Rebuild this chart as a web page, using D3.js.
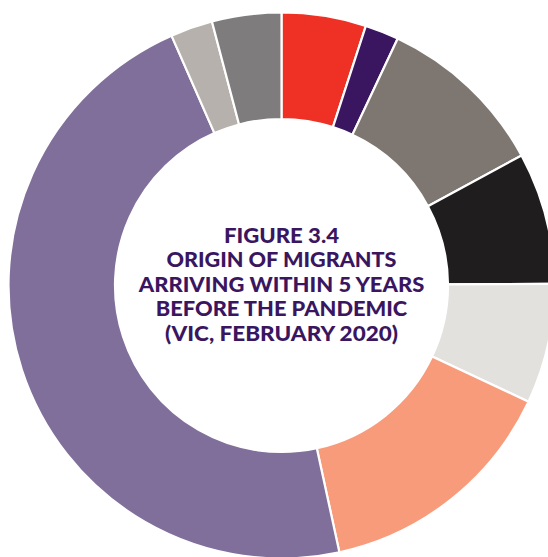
<!DOCTYPE html>
<html>
<head>
<meta charset="utf-8">
<script src="https://cdn.jsdelivr.net/npm/d3@7/dist/d3.min.js"></script>
<style>
  html, body { margin: 0; padding: 0; background: #fff; }
  svg { display: block; }
</style>
</head>
<body>
<script>
// Share of recent migrants by origin (per cent), clockwise from 12 o'clock
const categories = ["Segment 1", "Segment 2", "Segment 3", "Segment 4", "Segment 5",
                    "Segment 6", "Segment 7", "Segment 8", "Segment 9"];
const shares = [5.0, 2.0, 10.1, 7.8, 7.1, 14.6, 46.8, 2.5, 4.1];
const colours = ["#ee3124", "#3a1660", "#7e7670", "#1f1d1d", "#e2e1dd",
                 "#f89b7b", "#7f6f9a", "#b6b1ac", "#7e7c7d"];
const titleLines = ["FIGURE 3.4", "ORIGIN OF MIGRANTS", "ARRIVING WITHIN 5 YEARS",
                    "BEFORE THE PANDEMIC", "(VIC, FEBRUARY 2020)"];

const W = 548, H = 557;
const cx = 281.5, cy = 285.5;
const outerR = 273, innerR = 166.5;

const svg = d3.select("body").append("svg")
  .attr("width", W).attr("height", H);

const g = svg.append("g").attr("transform", `translate(${cx},${cy})`);

const pie = d3.pie().sort(null).value(d => d.value)
  .startAngle(0).endAngle(2 * Math.PI);
const arc = d3.arc().innerRadius(innerR).outerRadius(outerR);

const data = categories.map((c, i) => ({ name: c, value: shares[i], colour: colours[i] }));

g.selectAll("path.slice")
  .data(pie(data))
  .join("path")
  .attr("class", "slice")
  .attr("d", arc)
  .attr("fill", d => d.data.colour)
  .attr("stroke", "#ffffff")
  .attr("stroke-width", 2.2)
  .attr("stroke-linejoin", "miter");

// Centre title
const lineWidths = [115, 230, 285.5, 251.5, 233];
const baseY = -43, lineGap = 24.6;
g.append("g")
  .selectAll("text")
  .data(titleLines)
  .join("text")
  .attr("x", 0)
  .attr("y", (d, i) => baseY + i * lineGap)
  .attr("text-anchor", "middle")
  .attr("font-family", "Lato, 'Open Sans', sans-serif")
  .attr("font-weight", 900)
  .attr("font-size", 20)
  .attr("fill", "#3a1660")
  .attr("textLength", (d, i) => lineWidths[i])
  .attr("lengthAdjust", "spacingAndGlyphs")
  .text(d => d);
</script>
</body>
</html>
